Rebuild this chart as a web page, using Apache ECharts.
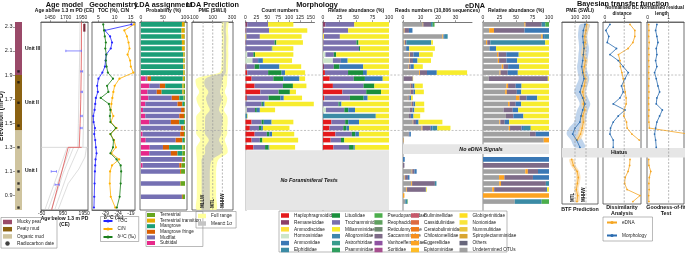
<!DOCTYPE html>
<html>
<head>
<meta charset="utf-8">
<title>Core multiproxy</title>
<script src="https://cdn.jsdelivr.net/npm/echarts@6.0.0/dist/echarts.min.js"></script>
<style>
  html, body { margin: 0; padding: 0; background: #fff; }
  #chart { width: 685px; height: 255px; }
</style>
</head>
<body>
<div id="chart"></div>
<script>
// ---------------- data ----------------
const ELEV_MIN = 0.78, ELEV_MAX = 2.34, BTF_ELEV_MIN = 0.83;
const elevTicks = [0.9, 1.1, 1.3, 1.5, 1.7, 1.9, 2.1, 2.3];

// stratigraphy
const unitNames = ['Mucky peat', 'Peaty mud', 'Organic mud'];
const unitLabels = ['Unit III', 'Unit II', 'Unit I'];
const unitTop = [2.34, 1.90, 1.44];
const unitBase = [1.90, 1.44, 0.78];
const unitColors = ['#9a4a69', '#8b6212', '#cfc49f'];
const radiocarbonElev = [1.93, 1.84, 1.67, 1.48, 1.30, 1.10, 1.00, 0.95, 0.80];

// age model (x = year CE, y = elevation)
const ageAboveMean = [[1948, 2.34], [1946, 2.10], [1942, 1.90], [1936, 1.70], [1926, 1.50], [1912, 1.30]];
const ageAboveLo = [[1925, 2.34], [1920, 2.10], [1912, 1.90], [1905, 1.70], [1898, 1.50], [1890, 1.30]];
const ageAboveHi = [[1995, 2.34], [1992, 2.10], [1988, 1.90], [1984, 1.70], [1978, 1.50], [1970, 1.30]];
const ageTopMarker = [[1992, 2.325], [1992, 2.26]];
const ageBelowMean = [[1830, 1.30], [1200, 1.30], [420, 0.78]];
const ageBelowFan = [
  [[2060, 1.30], [1990, 1.22], [1700, 1.12], [1200, 1.00], [720, 0.78]],
  [[1700, 1.30], [1200, 1.10], [560, 0.78]],
  [[1450, 1.30], [950, 1.08], [400, 0.78]],
  [[1300, 1.30], [250, 0.78]],
  [[1150, 1.30], [100, 0.78]]
];
const dateBarsAbove = [[1700, 1945, 2.10], [1935, 1965, 1.93], [1940, 1962, 1.76], [1935, 1960, 1.56], [1930, 1958, 1.46]];
const dateBarsBelow = [[400, 650, 1.10], [580, 780, 0.99]];

// sample elevations
const ldaElev = [2.32, 2.27, 2.22, 2.17, 2.12, 2.07, 2.02, 1.97, 1.92, 1.87, 1.81, 1.76, 1.71, 1.66, 1.61,
  1.56, 1.51, 1.46, 1.41, 1.36, 1.30, 1.25, 1.20, 1.15, 1.10, 1.00, 0.89];
const geoElev = ldaElev.concat([0.80]);
const morphElev = ldaElev.slice(0, 21);
const ednaElevTop = ldaElev.slice(0, 20);
const ednaElevBase = [1.20, 1.15, 1.10, 1.05, 1.00, 0.95, 0.90, 0.85];
const ednaElev = ednaElevTop.concat(ednaElevBase);

// geochemistry
const toc = [15.2, 7.0, 8.6, 9.2, 8.8, 7.4, 7.2, 7.0, 6.2, 5.0, 4.6, 4.8, 4.2, 4.0, 3.8, 3.4, 3.5, 3.9, 3.7, 4.0,
  4.2, 4.4, 4.1, 4.0, 3.9, 3.8, 3.7, 3.6];
const cn = [16.0, 13.0, 13.8, 14.3, 14.6, 14.0, 14.8, 15.0, 15.8, 11.5, 10.0, 9.6, 9.3, 9.0, 8.8, 9.6, 8.8, 10.6,
  8.7, 9.8, 10.4, 9.0, 11.4, 9.2, 8.6, 8.5, 8.8, 10.2];
const d13c = [-29.8, -29.5, -29.2, -28.8, -29.0, -28.6, -28.8, -28.5, -28.0, -26.0, -28.3, -27.8, -30.8, -27.6,
  -27.0, -27.2, -27.0, -24.9, -27.0, -25.8, -26.0, -27.0, -24.6, -23.0, -22.8, -23.0, -23.4, -24.5];

// LDA assignment, probability (%), stacked left to right
const ldaClasses = ['Subtidal', 'Mudflat', 'Mangrove fringe', 'Mangrove', 'Terrestrial transition', 'Terrestrial'];
const ldaProb = [
  [0, 0, 0, 93, 6, 1], [0, 0, 0, 92, 7, 1], [0, 0, 0, 92, 7, 1], [0, 0, 0, 93, 6, 1], [0, 0, 0, 93, 6, 1],
  [0, 0, 0, 96, 3, 1], [0, 0, 0, 96, 3, 1], [0, 0, 0, 96, 3, 1], [0, 0, 0, 96, 3, 1], [11, 4, 8, 72, 3, 2],
  [19, 24, 12, 39, 3, 3], [15, 21, 11, 47, 3, 3], [17, 53, 17, 10, 1, 2], [10, 73, 11, 4, 0, 2], [5, 86, 8, 0, 0, 1],
  [10, 77, 11, 0, 0, 2], [19, 49, 19, 11, 0, 2], [0, 91, 6, 0, 0, 3], [4, 85, 9, 0, 0, 2], [11, 68, 15, 4, 0, 2],
  [20, 30, 14, 30, 2, 4], [19, 49, 15, 11, 0, 6], [0, 93, 2, 0, 0, 5], [4, 83, 5, 0, 0, 8], [0, 89, 2, 0, 0, 9],
  [0, 89, 1, 0, 0, 10], [0, 93, 2, 0, 0, 5]
];

// LDA prediction, PME (SWLI)
const predElev = [2.34, 2.32, 2.27, 2.22, 2.17, 2.12, 2.07, 2.02, 1.97, 1.92, 1.87, 1.81, 1.76, 1.71, 1.66, 1.61,
  1.56, 1.51, 1.46, 1.41, 1.36, 1.30, 1.25, 1.20, 1.15, 1.10, 1.00, 0.89, 0.78];
const predFullLo = [195, 195, 190, 195, 195, 192, 195, 192, 190, 170, -70, -70, -40, -70, -55, -25, -70, -70, -70,
  -70, -30, -70, -70, -65, -65, -65, -65, -65, -65];
const predFullHi = [262, 262, 258, 262, 262, 260, 262, 260, 258, 255, 250, 245, 225, 250, 240, 215, 250, 255, 250,
  250, 225, 250, 250, 160, 140, 135, 135, 135, 135];
const predSdLo = [215, 215, 210, 215, 215, 212, 215, 212, 210, 200, 25, 15, 55, 30, 45, 70, 25, 20, 20, 20, 60, 20,
  20, -15, -15, -15, -15, -15, -15];
const predSdHi = [240, 240, 235, 240, 240, 238, 240, 238, 236, 235, 200, 190, 175, 195, 180, 165, 200, 200, 190,
  190, 165, 200, 190, 95, 75, 70, 70, 70, 70];
const ldaTideLevels = [['MLLW', 0], ['MTL', 100], ['MHHW', 200]];

// morphology counts, stacked left to right
const morphCols = ['Haplophragmoididae', 'Remaneicidae', 'Ammodiscidae', 'Hormosinidae', 'Trochamminidae',
  'Lituolidae', 'Ammoniidae', 'Elphidiidae', 'Miliamminidae'];
const morphCounts = [
  [0, 4, 0, 0, 48, 0, 0, 0, 58], [0, 2, 0, 0, 52, 0, 0, 0, 88], [0, 0, 2, 0, 31, 0, 0, 0, 96],
  [0, 1, 0, 0, 66, 4, 0, 0, 61], [0, 0, 0, 0, 60, 2, 0, 0, 48], [0, 0, 0, 4, 14, 4, 0, 0, 88],
  [0, 0, 0, 16, 13, 0, 11, 0, 67], [0, 2, 0, 0, 19, 11, 46, 0, 50], [4, 0, 0, 0, 48, 31, 8, 0, 46],
  [14, 0, 0, 0, 50, 23, 37, 0, 13], [21, 0, 0, 0, 65, 23, 0, 0, 31], [34, 0, 0, 0, 42, 26, 0, 0, 14],
  [3, 0, 0, 0, 50, 27, 8, 0, 42], [0, 0, 0, 0, 37, 3, 4, 0, 113], [0, 0, 0, 3, 19, 4, 7, 0, 35],
  [0, 0, 0, 0, 0, 0, 0, 4, 1], [14, 0, 0, 0, 23, 5, 18, 0, 50], [10, 0, 0, 0, 21, 5, 4, 0, 61],
  [21, 0, 0, 0, 28, 6, 6, 0, 51], [14, 0, 0, 0, 19, 6, 0, 0, 82], [18, 0, 0, 0, 27, 8, 2, 0, 59]
];

// eDNA reads (x 1000 sequences), stacked left to right
const ednaCols = ['Undetermined OTUs', 'Eggerellidae', 'Saccamminidae', 'Ammoniidae', 'Elphidiidae',
  'Pseudoparrellidae', 'Miliamminidae'];
const ednaReads = [
  [11.3, 0.3, 4.4, 0, 1.0, 1.0, 0], [0.5, 0.4, 2.5, 2.0, 0, 0, 0], [22.5, 0.6, 0, 0.8, 1.6, 0, 0],
  [0.8, 0.3, 0.8, 0, 14.2, 0, 1.0], [1.8, 0, 0, 1.8, 0, 0, 14.6], [3.6, 0.4, 2.0, 3.2, 0, 0, 7.8],
  [3.6, 0.3, 1.8, 2.6, 0, 0, 7.7], [3.2, 0.3, 0.8, 1.9, 0, 0, 5.1], [9.2, 0.5, 4.0, 5.6, 0, 0, 17.3],
  [0.5, 0, 5.1, 0, 0, 0, 0.1], [4.0, 0.3, 1.3, 1.0, 0, 0, 4.7], [4.0, 0.3, 1.8, 0.8, 0, 0, 5.0],
  [2.8, 0.3, 0.6, 0.9, 0, 0, 1.0], [4.6, 0.3, 1.1, 1.0, 0, 0, 5.1], [3.8, 0, 1.7, 1.0, 0, 0, 5.7],
  [3.4, 0, 1.1, 1.5, 0, 0, 3.8], [5.6, 0.3, 1.5, 1.5, 0, 0, 13.6], [10.6, 0.5, 4.7, 1.0, 2.8, 0, 7.5],
  [3.2, 0, 0.4, 0.9, 0, 0, 0], [0.35, 0.03, 0, 0, 0, 0, 0],
  [0, 0, 0, 1.0, 0, 0, 0], [0, 0, 0.8, 0, 0, 0, 0], [5.0, 0.3, 1.2, 1.3, 0, 0, 0], [0.9, 0.3, 1.6, 0.9, 0, 0, 0],
  [4.7, 0.5, 13.0, 0, 0.9, 0, 0], [1.9, 0.4, 10.7, 0.2, 0, 0, 0.4], [0, 0.8, 0, 0, 0, 0, 0], [1.3, 0, 0, 0, 1.1, 0.3, 0]
];

// Bayesian transfer function
const btfMorphPme = [191, 176, 170, 176, 182, 176, 170, 161, 170, 182, 161, 145, 170, 191, 170, 155, 145, 100, 79, 115, 145];
const btfMorphSd = [45, 45, 42, 42, 45, 45, 42, 42, 45, 48, 52, 52, 48, 48, 50, 50, 52, 55, 55, 52, 48];
const btfEdnaTopPme = [206, 200, 188, 192, 182, 176, 195, 185, 176, 195, 185, 170, 180, 176, 188, 170, 176, 165, 150, 120];
const btfEdnaTopSd = [22, 22, 20, 20, 20, 22, 22, 20, 20, 22, 22, 22, 20, 20, 22, 22, 22, 25, 25, 25];
const btfEdnaBasePme = [70, 85, 120, 130, 122, 112, 125, 118];
const btfEdnaBaseSd = [22, 22, 20, 20, 20, 20, 20, 20];
const btfTideLevels = [['MTL', 100], ['MHHW', 200]];
const bcMorph = [0.26, 0.05, 0.20, 0.12, 0.60, 0.26, 0.69, 0.95, 1.21, 1.04, 0.86, 0.95, 0.78, 0.43, 1.04, 0.69, 0.43, 0.29, 0.26, 0.43, 0.43];
const bcEdnaTop = [1.30, 1.55, 1.55, 1.45, 1.20, 0.70, 0.78, 0.80, 0.88, 0.95, 1.00, 1.05, 1.10, 1.10, 1.00, 0.98, 1.12, 1.15, 1.40, 1.78];
const bcEdnaBase = [1.30, 1.28, 1.20, 1.05, 1.02, 1.15, 1.82, 1.45];
const resMorph = [0.44, 0.38, 0.44, 0.49, 0.41, 0.44, 0.38, 0.44, 0.33, 0.41, 0.49, 0.57, 0.44, 0.41, 0.70, 0.57, 0.44, 0.38, 0.33, 0.38, 0.41];
const resEdnaTop = [0.05, 0.06, 0.05, 0.07, 0.05, 0.06, 0.05, 0.06, 0.05, 0.06, 0.05, 0.06, 0.05, 0.05, 0.06, 0.05, 0.06, 0.08, 1.95, 1.95];
const resEdnaBase = [0.05, 0.06, 0.15, 0.08, 0.06, 0.07, 0.05, 0.06];

// ---------------- styling ----------------
const FONT = '"Liberation Sans", Arial, sans-serif';
const ldaColors = {
  'Terrestrial': '#66a61e', 'Terrestrial transition': '#e6ab02', 'Mangrove': '#1b9e77',
  'Mangrove fringe': '#d95f02', 'Mudflat': '#7570b3', 'Subtidal': '#e7298a'
};
const legendColumns = [
  ['Haplophragmoididae', 'Remaneicidae', 'Ammodiscidae', 'Hormosinidae', 'Ammoniidae', 'Elphidiidae'],
  ['Lituolidae', 'Trochamminidae', 'Miliamminidae', 'Allogromiidae', 'Astrorhizidae', 'Psamminidae'],
  ['Pseudoparrellidae', 'Reophacidae', 'Reticulomyxidae', 'Saccamminidae', 'Vanhoeffenellidae', 'Soritidae'],
  ['Buliminellidae', 'Cassidulinidae', 'Ceratobuliminidae', 'Chilostomellidae', 'Eggerellidae', 'Epistominidae'],
  ['Globigerinitidae', 'Nonionidae', 'Nummulitidae', 'Spiroplectamminidae', 'Others', 'Undetermined OTUs']
];
const familyColors = {
  'Haplophragmoididae': '#e41a1c', 'Remaneicidae': '#8e3f66', 'Ammodiscidae': '#ffe03a', 'Hormosinidae': '#cde5c9',
  'Ammoniidae': '#3a78b5', 'Elphidiidae': '#3b8ba5', 'Lituolidae': '#1a8f3c', 'Trochamminidae': '#7a70ad',
  'Miliamminidae': '#f7ec2d', 'Allogromiidae': '#3f87ab', 'Astrorhizidae': '#379c8c', 'Psamminidae': '#2f9e5f',
  'Pseudoparrellidae': '#4cae4c', 'Reophacidae': '#5fa15f', 'Reticulomyxidae': '#6f8a70', 'Saccamminidae': '#7e6b88',
  'Vanhoeffenellidae': '#8f52a1', 'Soritidae': '#a64f8f', 'Buliminellidae': '#c6586a', 'Cassidulinidae': '#dd6a40',
  'Ceratobuliminidae': '#ef7a1a', 'Chilostomellidae': '#f78e1e', 'Eggerellidae': '#fca321', 'Epistominidae': '#febc27',
  'Globigerinitidae': '#fedf22', 'Nonionidae': '#f9e53a', 'Nummulitidae': '#e9c53c', 'Spiroplectamminidae': '#d8a531',
  'Others': '#66657a', 'Undetermined OTUs': '#a0a0a0'
};
const C_TOC = '#2424ff', C_CN = '#ffb000', C_D13 = '#1b7f1b';
const C_EDNA = '#f5a623', C_MORPH = '#2b6cb0';

// panel boxes: [left, width, framed, height, lowest elevation]
const panels = [
  [15, 7, false, 188, ELEV_MIN], [41, 47, true, 188, ELEV_MIN], [92, 43, true, 188, ELEV_MIN],
  [140, 47, true, 188, ELEV_MIN], [192, 41, true, 188, ELEV_MIN],
  [245.5, 69, false, 188, ELEV_MIN], [323, 66, false, 188, ELEV_MIN], [403, 69, false, 188, ELEV_MIN],
  [483, 66, false, 188, ELEV_MIN],
  [562, 36, true, 182, BTF_ELEV_MIN], [603, 38, true, 182, BTF_ELEV_MIN], [647, 37, true, 182, BTF_ELEV_MIN]
];

// ---------------- helpers ----------------
function plain(v) { return String(Math.round(v * 100) / 100); }
function topAxis(grid, min, max, ticks, name, nameGap, nameSize, namePad) {
  return {
    gridIndex: grid, type: 'value', position: 'top', min: min, max: max,
    name: name, nameLocation: 'middle', nameGap: nameGap || 8.5, nameMoveOverlap: false,
    nameTextStyle: {fontSize: nameSize || 5, fontWeight: 'bold', fontFamily: FONT, color: '#111', lineHeight: 5.2,
      padding: namePad || 0},
    axisLine: {show: true, onZero: false, lineStyle: {color: '#555', width: 0.8}},
    axisTick: {show: true, length: 1.8, customValues: ticks, lineStyle: {color: '#555', width: 0.6}},
    axisLabel: {show: true, customValues: ticks, fontSize: 5, margin: 1.5, color: '#222', fontFamily: FONT,
      formatter: plain},
    splitLine: {show: false}
  };
}
function bottomAxis(grid, min, max, ticks, name, nameGap) {
  const a = topAxis(grid, min, max, ticks, name, nameGap);
  a.position = 'bottom';
  a.axisLabel.margin = 1.2;
  return a;
}
function hiddenAxis(grid, min, max) {
  return {gridIndex: grid, type: 'value', min: min, max: max, show: false};
}
function barItem(params, api) {
  const a = api.coord([api.value(0), api.value(2)]);
  const b = api.coord([api.value(1), api.value(2)]);
  return {
    type: 'rect',
    shape: {x: a[0], y: a[1] - 2.3, width: Math.max(b[0] - a[0], 0.35), height: 4.6},
    style: {fill: api.visual('color')}
  };
}
function stackSeries(cols, colors, elev, rows, xi, yi, relative) {
  return cols.map(function (name, c) {
    const data = [];
    rows.forEach(function (r, i) {
      const tot = relative ? r.reduce(function (s, v) { return s + v; }, 0) : 1;
      let start = 0;
      for (let k = 0; k < c; k++) start += r[k];
      if (r[c] > 0) {
        const k = relative ? 100 / tot : 1;
        data.push([start * k, (start + r[c]) * k, elev[i]]);
      }
    });
    return {
      type: 'custom', name: name, xAxisIndex: xi, yAxisIndex: yi, clip: true, silent: true,
      itemStyle: {color: colors[name]}, encode: {x: [0, 1], y: 2}, renderItem: barItem, data: data
    };
  });
}
function bandSeries(xi, yi, elev, lo, hi, color, opacity, name) {
  return {
    type: 'custom', name: name, xAxisIndex: xi, yAxisIndex: yi, clip: true, silent: true, z: 1,
    itemStyle: {color: color},
    data: [[lo[0], elev[0]]],
    renderItem: function (params, api) {
      const pts = [];
      elev.forEach(function (e, i) { pts.push(api.coord([lo[i], e])); });
      for (let i = elev.length - 1; i >= 0; i--) pts.push(api.coord([hi[i], elev[i]]));
      return {type: 'polygon', shape: {points: pts, smooth: 0.3}, style: {fill: color, opacity: opacity}};
    }
  };
}
function lineSeries(name, xi, yi, pts, color, width, symbolSize) {
  return {
    type: 'line', name: name, xAxisIndex: xi, yAxisIndex: yi, data: pts, silent: true, z: 3,
    symbol: symbolSize ? 'circle' : 'none', symbolSize: symbolSize || 0,
    lineStyle: {color: color, width: width}, itemStyle: {color: color}, clip: true
  };
}
function zip(xs, ys) { return xs.map(function (x, i) { return [x, ys[i]]; }); }
function errorBars(xi, yi, bars) {
  return {
    type: 'custom', xAxisIndex: xi, yAxisIndex: yi, silent: true, z: 4, clip: true,
    data: bars,
    encode: {x: [0, 1], y: 2},
    renderItem: function (params, api) {
      const a = api.coord([api.value(0), api.value(2)]);
      const b = api.coord([api.value(1), api.value(2)]);
      const st = {stroke: '#6f6fff', lineWidth: 0.8};
      return {type: 'group', children: [
        {type: 'line', shape: {x1: a[0], y1: a[1], x2: b[0], y2: b[1]}, style: st},
        {type: 'line', shape: {x1: a[0], y1: a[1] - 1.2, x2: a[0], y2: a[1] + 1.2}, style: st},
        {type: 'line', shape: {x1: b[0], y1: b[1] - 1.2, x2: b[0], y2: b[1] + 1.2}, style: st}
      ]};
    }
  };
}

// ---------------- axes ----------------
const xAxes = [
  hiddenAxis(0, 0, 1),                                                                    // 0 units
  topAxis(1, 1308, 2050, [1450, 1700, 1950], 'Age above 1.3 m PD (CE)'),                   // 1
  bottomAxis(1, -80, 2130, [-50, 950, 1950], 'Age below 1.3 m PD\n(CE)', 6.5),            // 2
  topAxis(2, 3.0, 16.3, [5, 10, 15], 'TOC (%), C/N'),                                     // 3
  bottomAxis(2, -34.2, -17.4, [-29, -24, -19], 'δ¹³C (‰)', 5.5),                           // 4
  topAxis(3, -2, 104.5, [0, 50, 100], 'Probability (%)'),                                 // 5
  topAxis(4, -115, 310, [-100, 100, 300], 'PME (SWLI)'),                                   // 6
  topAxis(5, 0, 158.6, [0, 25, 50, 75, 100, 125, 150], 'Count numbers'),                  // 7
  topAxis(6, 0, 100, [0, 25, 50, 75, 100], 'Relative abundance (%)'),                     // 8
  topAxis(7, 0, 39.4, [0, 10, 20, 30], 'Reads numbers (10,806 sequences)'),               // 9
  topAxis(8, 0, 100, [0, 25, 50, 75, 100], 'Relative abundance (%)'),                     // 10
  topAxis(9, -18, 309, [100, 200], 'PME (SWLI)'),                                          // 11
  topAxis(10, -0.1, 1.87, [0, 1], 'Normalised BC\ndistance', 6, 4.7),                     // 12
  topAxis(11, -0.03, 1.73, [0, 1], 'Normalised residual\nlength', 6, 4.6, [0, 7, 0, 0])   // 13
];
const yAxes = panels.map(function (p, i) {
  const stacked = i >= 5 && i <= 8;
  return {
    gridIndex: i, type: 'value', min: p[4], max: ELEV_MAX, show: i === 0 || stacked,
    axisLine: {show: stacked, onZero: false, lineStyle: {color: '#b5b5b5', width: 1.6}},
    axisTick: {show: i === 0, length: 2, customValues: elevTicks, lineStyle: {color: '#555', width: 0.6}},
    axisLabel: {show: i === 0, customValues: elevTicks, fontSize: 5.5, margin: 2.5, color: '#222', fontFamily: FONT,
      formatter: function (v) { return v.toFixed(1); }},
    splitLine: {show: false},
    name: i === 0 ? 'Elevation (mPD)' : '', nameLocation: 'middle', nameGap: 10.5, nameRotate: 90,
    nameMoveOverlap: false,
    nameTextStyle: {fontSize: 6.5, fontWeight: 'bold', fontFamily: FONT, color: '#111'}
  };
});

// ---------------- series ----------------
const series = [];
// units
unitNames.forEach(function (n, i) {
  series.push({
    type: 'custom', name: n, xAxisIndex: 0, yAxisIndex: 0, clip: false, silent: true,
    itemStyle: {color: unitColors[i]}, encode: {x: 0, y: [1, 2]},
    data: [[0, unitTop[i], unitBase[i]]],
    renderItem: function (params, api) {
      const a = api.coord([0, api.value(1)]);
      const b = api.coord([1, api.value(2)]);
      return {type: 'group', children: [
        {type: 'rect', shape: {x: a[0], y: a[1], width: b[0] - a[0], height: b[1] - a[1]}, style: {fill: api.visual('color')}},
        {type: 'text', x: b[0] + 3, y: (a[1] + b[1]) / 2,
          style: {text: unitLabels[i], fontSize: 5, fontWeight: 'bold', fontFamily: FONT, fill: '#111',
            align: 'left', verticalAlign: 'middle'}}
      ]};
    }
  });
});
series.push({
  type: 'scatter', name: 'Radiocarbon date', xAxisIndex: 0, yAxisIndex: 0, silent: true, z: 4,
  symbol: 'rect', symbolSize: 2.4, itemStyle: {color: '#111'},
  data: radiocarbonElev.map(function (e) { return [0.5, e]; })
});

// age model
series.push(lineSeries(undefined, 1, 1, ageAboveLo, '#c4c4c4', 0.6));
series.push(lineSeries(undefined, 1, 1, ageAboveHi, '#c4c4c4', 0.6));
series.push(lineSeries(undefined, 1, 1, ageAboveMean, '#e05050', 0.8));
series.push(lineSeries(undefined, 1, 1, ageTopMarker, '#7b2a3a', 2.2));
series.push(lineSeries(undefined, 2, 1, [[-80, 1.3], [2130, 1.3]], '#cfcfcf', 0.8));
ageBelowFan.forEach(function (f) { series.push(lineSeries(undefined, 2, 1, f, '#c8c8c8', 0.6)); });
series.push(lineSeries(undefined, 2, 1, ageBelowMean, '#e05050', 0.8));
series.push(errorBars(1, 1, dateBarsAbove));
series.push(errorBars(2, 1, dateBarsBelow));

// geochemistry
series.push(lineSeries('TOC', 3, 2, zip(toc, geoElev), C_TOC, 0.8, 2.2));
series.push(lineSeries('C/N', 3, 2, zip(cn, geoElev), C_CN, 0.8, 2.2));
series.push(lineSeries('δ¹³C (‰)', 4, 2, zip(d13c, geoElev), C_D13, 0.8, 2.2));

// LDA
Array.prototype.push.apply(series, stackSeries(ldaClasses, ldaColors, ldaElev, ldaProb, 5, 3, false));
series.push(bandSeries(6, 4, predElev, predFullLo, predFullHi, '#ffff99', 0.85, 'Full range'));
series.push(bandSeries(6, 4, predElev, predSdLo, predSdHi, '#c4c4c4', 0.75, 'Mean± 1σ'));

// morphology and eDNA
Array.prototype.push.apply(series, stackSeries(morphCols, familyColors, morphElev, morphCounts, 7, 5, false));
Array.prototype.push.apply(series, stackSeries(morphCols, familyColors, morphElev, morphCounts, 8, 6, true));
Array.prototype.push.apply(series, stackSeries(ednaCols, familyColors, ednaElev, ednaReads, 9, 7, false));
Array.prototype.push.apply(series, stackSeries(ednaCols, familyColors, ednaElev, ednaReads, 10, 8, true));
// legend-only entries for families absent from the bars
const drawn = morphCols.concat(ednaCols);
legendColumns.forEach(function (col) {
  col.forEach(function (n) {
    if (drawn.indexOf(n) < 0) {
      series.push({type: 'custom', name: n, xAxisIndex: 7, yAxisIndex: 5, data: [], itemStyle: {color: familyColors[n]},
        renderItem: barItem});
    }
  });
});

// BTF
function minus(a, b) { return a.map(function (v, i) { return v - b[i]; }); }
function plus(a, b) { return a.map(function (v, i) { return v + b[i]; }); }
series.push(bandSeries(11, 9, morphElev, minus(btfMorphPme, btfMorphSd), plus(btfMorphPme, btfMorphSd), '#a9c5e6', 0.75));
series.push(bandSeries(11, 9, ednaElevTop, minus(btfEdnaTopPme, btfEdnaTopSd), plus(btfEdnaTopPme, btfEdnaTopSd), '#fcd79c', 0.7));
series.push(bandSeries(11, 9, ednaElevBase, minus(btfEdnaBasePme, btfEdnaBaseSd), plus(btfEdnaBasePme, btfEdnaBaseSd), '#fcd79c', 0.7));
series.push(lineSeries('eDNA', 11, 9, zip(btfEdnaTopPme, ednaElevTop), C_EDNA, 0.8, 1.8));
series.push(lineSeries('eDNA', 11, 9, zip(btfEdnaBasePme, ednaElevBase), C_EDNA, 0.8, 1.8));
series.push(lineSeries('Morphology', 11, 9, zip(btfMorphPme, morphElev), C_MORPH, 0.8, 1.8));
series.push(lineSeries('eDNA', 12, 10, zip(bcEdnaTop, ednaElevTop), C_EDNA, 0.8, 1.8));
series.push(lineSeries('eDNA', 12, 10, zip(bcEdnaBase, ednaElevBase), C_EDNA, 0.8, 1.8));
series.push(lineSeries('Morphology', 12, 10, zip(bcMorph, morphElev), C_MORPH, 0.8, 1.8));
series.push(lineSeries('eDNA', 13, 11, zip(resEdnaTop, ednaElevTop), C_EDNA, 0.8, 1.8));
series.push(lineSeries('eDNA', 13, 11, zip(resEdnaBase, ednaElevBase), C_EDNA, 0.8, 1.8));
series.push(lineSeries('Morphology', 13, 11, zip(resMorph, morphElev), C_MORPH, 0.8, 1.8));

// ---------------- legends ----------------
const legTxt = {fontSize: 4.7, fontFamily: FONT, color: '#222'};
function legend(left, top, data, extra) {
  return Object.assign({
    left: left, top: top, orient: 'vertical', icon: 'rect', itemWidth: 8, itemHeight: 4.5, itemGap: 2,
    padding: 0, selectedMode: false, textStyle: legTxt, data: data
  }, extra || {});
}
const framed = {borderColor: '#8c8c8c', borderWidth: 0.6};
const legends = [
  legend(1, 217.5, unitNames.concat([{name: 'Radiocarbon date', icon: 'circle'}]),
    Object.assign({padding: [2, 3, 2, 2], itemWidth: 9, itemGap: 2.2}, framed)),
  legend(100.5, 216.5, ['TOC', 'C/N', 'δ¹³C (‰)'],
    Object.assign({icon: null, padding: [2, 3, 2, 2], itemWidth: 9, itemHeight: 4, itemGap: 3}, framed)),
  legend(146, 211.5, ['Terrestrial', 'Terrestrial transition', 'Mangrove', 'Mangrove fringe', 'Mudflat', 'Subtidal'],
    Object.assign({padding: [1, 2, 1, 1], itemHeight: 4, itemGap: 0.6}, framed)),
  legend(196, 211.5, ['Full range', 'Mean± 1σ'],
    Object.assign({padding: [2, 4, 2, 2], itemGap: 2.5}, framed)),
  legend(603, 217, ['eDNA', 'Morphology'],
    Object.assign({icon: null, padding: [3, 6, 3, 3], itemWidth: 10, itemHeight: 4, itemGap: 8}, framed))
];
[281, 332, 374.5, 411, 459.5].forEach(function (x, i) {
  legends.push(legend(x, 213, legendColumns[i], {itemGap: 1.9}));
});
legends.forEach(function (l) { if (l.icon === null) delete l.icon; });

// ---------------- chart ----------------
const chart = echarts.init(document.getElementById('chart'), null, {renderer: 'canvas'});
chart.setOption({
  animation: false,
  backgroundColor: '#fff',
  textStyle: {fontFamily: FONT},
  grid: panels.map(function (p) {
    return {left: p[0], width: p[1], top: 22, height: p[3], show: p[2], borderColor: '#4d4d4d', borderWidth: 0.8,
      backgroundColor: 'transparent', containLabel: false, outerBoundsMode: 'none'};
  }),
  xAxis: xAxes,
  yAxis: yAxes,
  legend: legends,
  series: series
});

// ---------------- annotations placed through the axes ----------------
function P(xi, yi, x, y) { return chart.convertToPixel({xAxisIndex: xi, yAxisIndex: yi}, [x, y]); }
function txt(text, x, y, size, weight, italic) {
  return {type: 'text', x: x, y: y, z: 10, silent: true,
    style: {text: text, fontSize: size, fontWeight: weight || 'normal', fontStyle: italic ? 'italic' : 'normal',
      fontFamily: FONT, fill: '#111', align: 'center', verticalAlign: 'middle'}};
}
function rectBetween(x0, y0, x1, y1, fill) {
  return {type: 'rect', z: 1, silent: true, shape: {x: x0, y: y0, width: x1 - x0, height: y1 - y0}, style: {fill: fill}};
}
const g = [];
// stratigraphic boundaries
[1.90, 1.44].forEach(function (e) {
  const y = P(7, 5, 0, e)[1];
  g.push({type: 'line', z: 1, silent: true, shape: {x1: 88, y1: y, x2: 685, y2: y},
    style: {stroke: '#a8a8a8', lineWidth: 0.7, lineDash: [2, 1.6]}});
});
// grey "no data" bands
const nf0 = P(7, 5, 0, 1.275), nf1 = P(8, 6, 100, ELEV_MIN);
g.push(rectBetween(nf0[0], nf0[1], nf1[0], nf1[1], '#e6e6e6'));
g.push(txt('No Foraminiferal Tests', 309, (nf0[1] + nf1[1]) / 2, 5.3, 'bold', true));
const ne0 = P(9, 7, 0, 1.325), ne1 = P(10, 8, 100, 1.245);
g.push(rectBetween(ne0[0], ne0[1], ne1[0], ne1[1], '#e6e6e6'));
g.push(txt('No eDNA Signals', 481, (ne0[1] + ne1[1]) / 2, 5.3, 'bold', true));
const h0 = P(11, 9, -18, 1.295), h1 = P(13, 11, 1.73, 1.215);
g.push(rectBetween(h0[0], h0[1], 685, h1[1], '#e6e6e6'));
g.push(txt('Hiatus', 619, (h0[1] + h1[1]) / 2, 5.3, 'bold'));
// tidal datums
function datum(xi, yi, v, yMin, label, dx) {
  const a = P(xi, yi, v, ELEV_MAX), b = P(xi, yi, v, yMin);
  g.push({type: 'line', z: 5, silent: true, shape: {x1: a[0], y1: a[1], x2: b[0], y2: b[1]},
    style: {stroke: '#9a9a9a', lineWidth: 0.7, lineDash: [2, 1.5]}});
  if (label) {
    g.push({type: 'text', z: 10, silent: true, x: b[0] + dx, y: b[1] - 2, rotation: Math.PI / 2,
      style: {text: label, fontSize: 4.5, fontWeight: 'bold', fontFamily: FONT, fill: '#222', align: 'left', verticalAlign: 'middle'}});
  }
}
ldaTideLevels.forEach(function (t) { datum(6, 4, t[1], ELEV_MIN, t[0], 0); });
btfTideLevels.forEach(function (t) { datum(11, 9, t[1], BTF_ELEV_MIN, t[0], -2.5); });
datum(12, 10, 1, BTF_ELEV_MIN, '', 0);
datum(13, 11, 1, BTF_ELEV_MIN, '', 0);
// titles
g.push(txt('Age model', 64.5, 4.5, 7.3, 'bold'));
g.push(txt('Geochemistry', 113.5, 4.5, 7.3, 'bold'));
g.push(txt('LDA assignment', 163.5, 4.5, 7.3, 'bold'));
g.push(txt('LDA Prediction', 212.5, 4.5, 7.3, 'bold'));
g.push(txt('Morphology', 317, 4.5, 7.3, 'bold'));
g.push(txt('eDNA', 475, 6, 7.3, 'bold'));
g.push(txt('Bayesian transfer function', 623, 3.5, 7.3, 'bold'));
g.push(txt('BTF Prediction', 580, 209.5, 5.3, 'bold'));
g.push(txt('Dissimilarity', 622, 208, 5.3, 'bold'));
g.push(txt('Analysis', 622, 213.5, 5.3, 'bold'));
g.push(txt('Goodness-of-fit', 666, 208, 5.3, 'bold'));
g.push(txt('Test', 666, 213.5, 5.3, 'bold'));
// frame around the family legend
g.push({type: 'rect', z: 1, silent: true, shape: {x: 279, y: 211, width: 228, height: 41},
  style: {fill: 'none', stroke: '#8c8c8c', lineWidth: 0.6}});
chart.setOption({graphic: {elements: g}});
</script>
</body>
</html>
